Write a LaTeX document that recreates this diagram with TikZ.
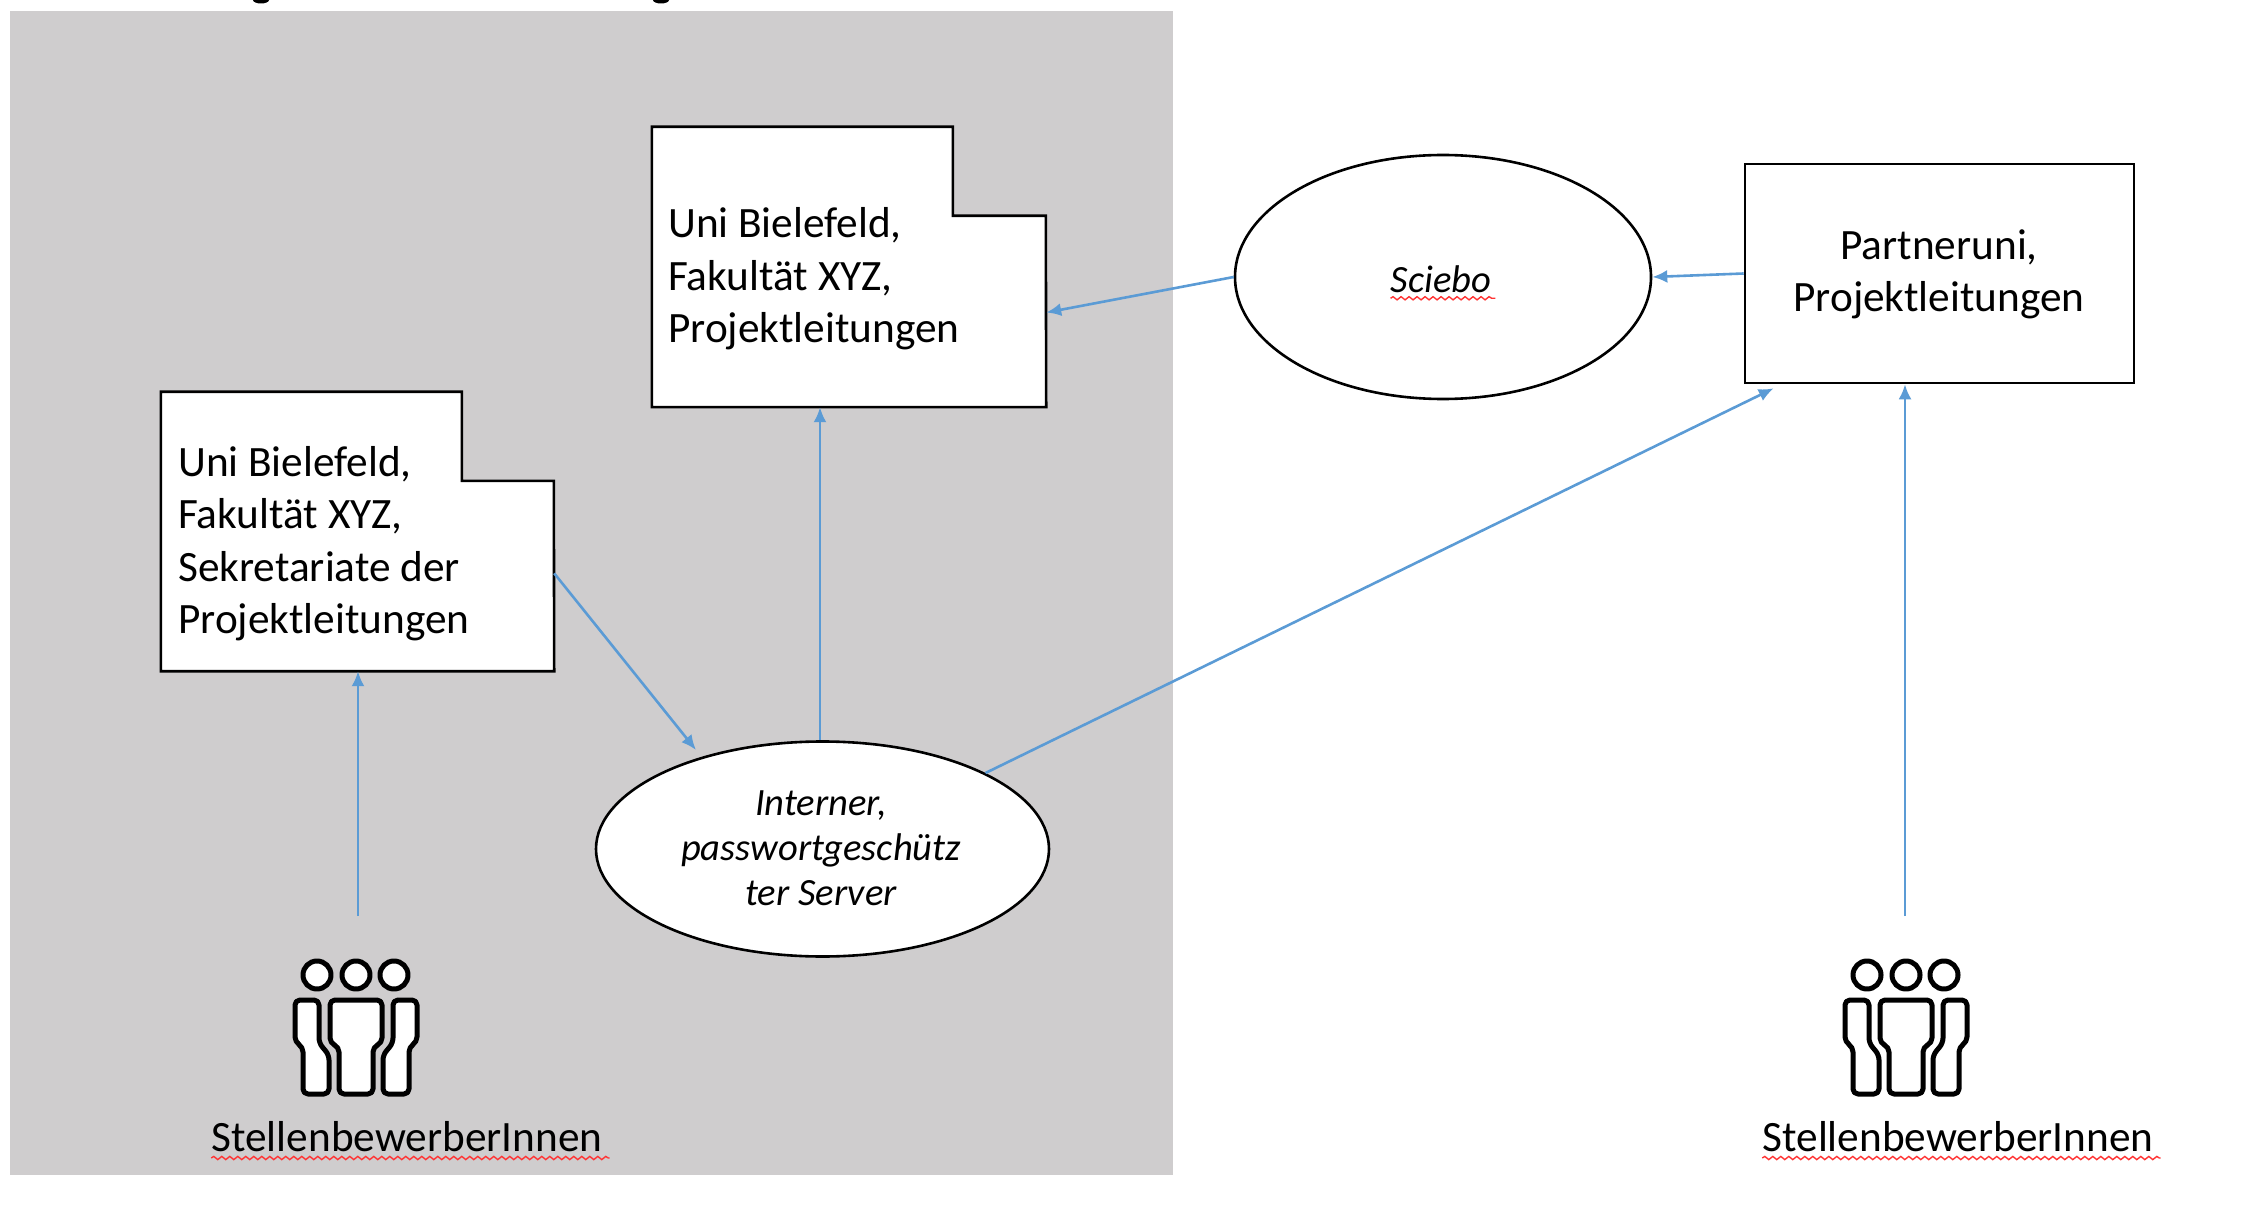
\documentclass[tikz,border=0pt]{standalone}
\usepackage{fontspec}
\setmainfont{Carlito}
\usetikzlibrary{arrows.meta,calc,shapes.geometric,decorations.pathmorphing}
\definecolor{panelgray}{HTML}{CFCDCE}
\definecolor{arrowblue}{HTML}{5B9BD5}
\tikzset{
  x=1pt,y=-1pt,
  outline/.style={draw=black,line width=2.6pt,fill=white},
  bigtext/.style={font=\fontsize{43.3}{52.5}\selectfont,text=black,inner sep=0pt,align=left},
  ovaltext/.style={font=\fontsize{38.6}{45}\selectfont\itshape,text=black,inner sep=0pt,align=center},
  oval/.style={ellipse,outline,inner sep=0pt},
  frame/.style={rectangle,inner sep=0pt},
  link/.style={draw=arrowblue,line width=2.6pt,-{Latex[length=15pt,width=13pt]}},
  squiggle/.style={draw=red!80!white,line width=1.4pt,decorate,decoration={snake,amplitude=1.6pt,segment length=8pt}},
  iconline/.style={draw=black,line width=5pt,fill=white,rounded corners=5pt,line join=round},
  people/.pic={
    \foreach \hx in {-39,0,38}{\draw[iconline] (\hx,-38) circle (14);}
    \draw[iconline] (-26,-13) -- (26,-13) -- (26,30) -- (17,34) -- (17,81) -- (-17,81) -- (-17,34) -- (-26,30) -- cycle;
    \draw[iconline] (-37,-13) -- (-61,-13) -- (-61,29) -- (-53,34) -- (-53,81) -- (-27,81) -- (-27,42) -- (-37,30) -- cycle;
    \draw[iconline] (37,-13) -- (61,-13) -- (61,29) -- (53,34) -- (53,81) -- (27,81) -- (27,42) -- (37,30) -- cycle;
  }
}
\begin{document}
\begin{tikzpicture}
\useasboundingbox (0,0) rectangle (2252,1222);
\clip (0,0) rectangle (2252,1222);
\fill[black] (261,0) ellipse (8 and 3.5);
\fill[black] (661,0) ellipse (8 and 3.5);
\fill[panelgray] (10,11) rectangle (1173,1175);
% documents with a cut corner
\node[frame,minimum width=394pt,minimum height=280pt] (docA) at (849,267) {};
\draw[outline] (docA.north west) -- ++(301,0) -- ++(0,89) -- ++(93,0) -- (docA.south east) -- (docA.south west) -- cycle;
\node[bigtext,anchor=west] (docAtext) at (668,279) {Uni Bielefeld,\\Fakultät XYZ,\\Projektleitungen};
\node[frame,minimum width=393pt,minimum height=279pt] (docB) at (357.5,531.5) {};
\draw[outline] (docB.north west) -- ++(301,0) -- ++(0,89) -- ++(92,0) -- (docB.south east) -- (docB.south west) -- cycle;
\node[bigtext,anchor=west] (docBtext) at (178,543.5) {Uni Bielefeld,\\Fakultät XYZ,\\Sekretariate der\\Projektleitungen};
% ovals and the box
\node[oval,minimum width=416pt,minimum height=244pt] (cloud) at (1443,277) {};
\node[ovaltext] (cloudtext) at (1441,279) {Sciebo};
\node[oval,minimum width=453pt,minimum height=215pt] (server) at (822.5,849) {};
\node[ovaltext] (servertext) at (821,848) {Interner,\\passwortgeschütz\\ter Server};
\node[frame,outline,minimum width=389pt,minimum height=219pt] (partner) at (1939.5,273.5) {};
\node[bigtext,align=center] (partnertext) at (1939,274.5) {Partneruni,\\Projektleitungen};
% people
\pic at (356,1013) {people};
\pic at (1906,1013) {people};
\coordinate (groupL) at (358,916);
\coordinate (groupR) at (1905,916);
\coordinate (partnerHit) at ($(partner.south west)+(30,4)$);
\coordinate (serverHit) at (696,750);
\coordinate (serverTop) at ($(server.north)+(-2.5,0)$);
\node[bigtext,anchor=base] (labelL) at (407,1151) {StellenbewerberInnen};
\node[bigtext,anchor=base] (labelR) at (1958,1151) {StellenbewerberInnen};
\draw[squiggle] ($(labelL.base west)+(0,7)$) -- ($(labelL.base east)+(7,7)$);
\draw[squiggle] ($(labelR.base west)+(0,7)$) -- ($(labelR.base east)+(7,7)$);
\draw[squiggle] ($(cloudtext.base west)+(0,6)$) -- ($(cloudtext.base east)+(4,6)$);
% connectors
\draw[link] (cloud.west) -- (docA.-13);
\draw[link] (partner.west) -- (cloud.east);
\draw[link] (serverTop) -- (serverTop |- docA.south);
\draw[link] (docB.-12.5) -- (serverHit);
\draw[link] (server.25) -- (partnerHit);
\draw[link] (groupL) -- (groupL |- docB.south);
\draw[link] (groupR) -- (groupR |- partner.south);
\end{tikzpicture}
\end{document}
